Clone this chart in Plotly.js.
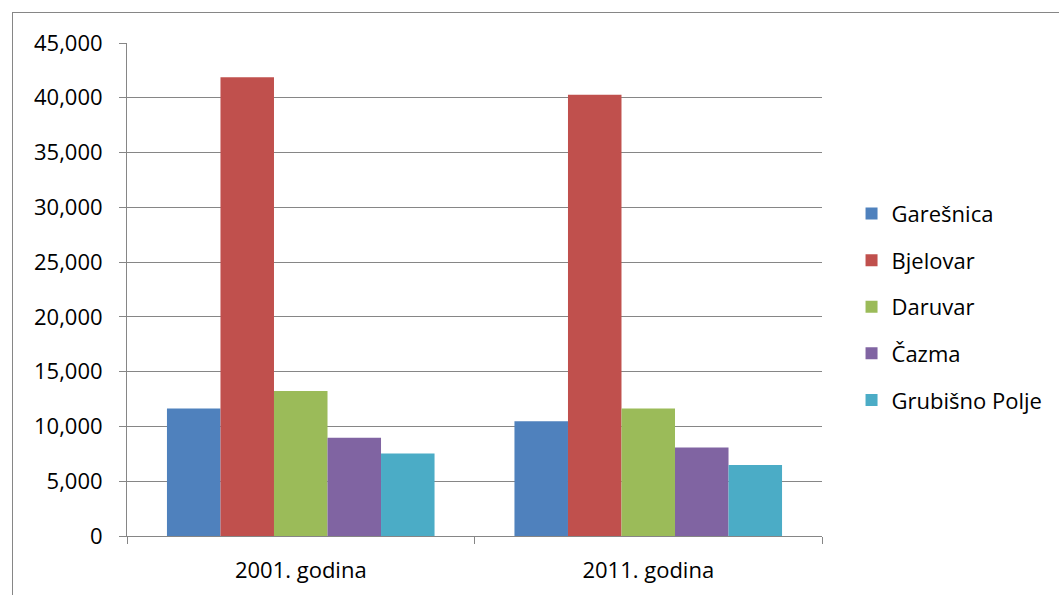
<!DOCTYPE html>
<html>
<head>
<meta charset="utf-8">
<script src="https://cdn.plot.ly/plotly-3.0.1.min.js"></script>
<style>
html,body{margin:0;padding:0;background:#fff;}
#wrap{position:relative;width:1059px;height:595px;}
#chart{position:absolute;left:0;top:0;width:1059px;height:595px;}
#frame{position:absolute;left:12px;top:12px;width:1060px;height:600px;border-left:1px solid #868686;border-top:1px solid #868686;pointer-events:none;}
</style>
</head>
<body>
<div id="wrap"><div id="chart"></div><div id="frame"></div></div>
<script>
const categories = ["2001. godina", "2011. godina"];
const seriesNames = ["Garešnica", "Bjelovar", "Daruvar", "Čazma", "Grubišno Polje"];
const garesnica = [11630, 10472];
const bjelovar = [41869, 40276];
const daruvar = [13243, 11633];
const cazma = [8977, 8077];
const grubisnoPolje = [7525, 6478];
const seriesValues = [garesnica, bjelovar, daruvar, cazma, grubisnoPolje];
const colors = ["#4F81BD", "#C0504D", "#9BBB59", "#8064A2", "#4BACC6"];
const yTicks = [0, 5000, 10000, 15000, 20000, 25000, 30000, 35000, 40000, 45000];

const font = "'Open Sans', Carlito, Lato, sans-serif";
const traces = seriesNames.map((n, i) => ({
  type: "bar",
  name: n,
  x: categories,
  y: seriesValues[i],
  legendgroup: "g" + i,
  marker: {color: colors[i], line: {width: 0}},
  hoverinfo: "x+y+name"
}));

const layout = {
  width: 1059, height: 595,
  margin: {l: 127, r: 236, t: 43, b: 59},
  paper_bgcolor: "rgba(0,0,0,0)",
  plot_bgcolor: "#fff",
  barmode: "group",
  bargap: 0.23,
  bargroupgap: 0,
  font: {family: font, size: 22, color: "#000"},
  xaxis: {
    type: "category",
    tickson: "boundaries",
    ticks: "outside", ticklen: 7, tickcolor: "#868686", tickwidth: 1,
    showline: true, linecolor: "#868686", linewidth: 1,
    showgrid: false,
    ticklabelstandoff: 15,
    tickfont: {family: font, size: 22, color: "#000"},
    automargin: false
  },
  yaxis: {
    range: [0, 45000],
    tickvals: yTicks,
    ticktext: yTicks.map(v => v.toLocaleString("en-US")),
    ticks: "outside", ticklen: 7, tickcolor: "#868686", tickwidth: 1,
    showline: true, linecolor: "#868686", linewidth: 1,
    showgrid: true, gridcolor: "#868686", gridwidth: 1,
    zeroline: false,
    ticklabelstandoff: 12,
    tickfont: {family: font, size: 22, color: "#000"},
    automargin: false
  },
  showlegend: true,
  legend: {
    x: 1.041, xanchor: "left",
    y: 0.465, yanchor: "middle",
    font: {family: font, size: 22, color: "#000"},
    tracegroupgap: 15,
    itemwidth: 30,
    bgcolor: "rgba(0,0,0,0)"
  }
};

Plotly.newPlot("chart", traces, layout, {displayModeBar: false, staticPlot: true});
</script>
</body>
</html>
